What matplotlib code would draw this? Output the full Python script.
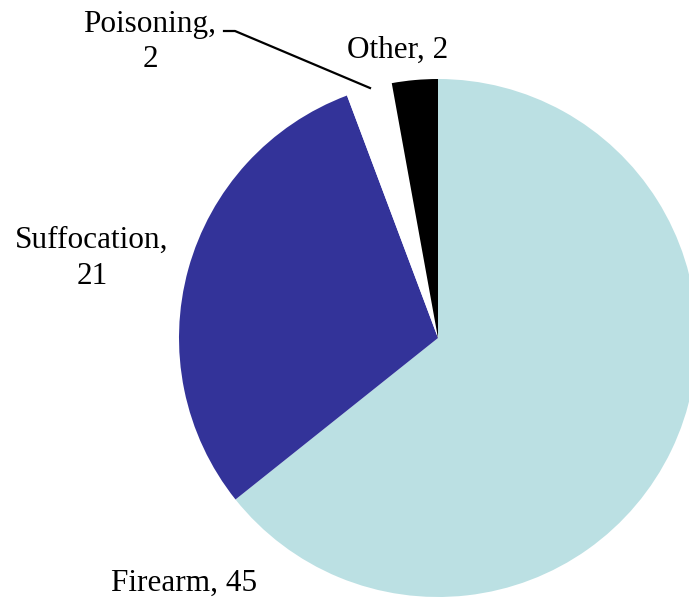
import matplotlib
matplotlib.use('Agg')
import matplotlib.pyplot as plt

# causes and counts
causes = ['Firearm', 'Suffocation', 'Poisoning', 'Other']
counts = [45, 21, 2, 2]
colors = ['#bbe0e3', '#333399', '#ffffff', '#000000']

plt.rcParams['font.family'] = ['Liberation Serif', 'DejaVu Serif']

W, H = 689, 602
fig = plt.figure(figsize=(W / 100, H / 100), dpi=100)
ax = fig.add_axes([0, 0, 1, 1])

ax.pie(counts, colors=colors, startangle=90, counterclock=False,
       center=(438, H - 338), radius=259,
       wedgeprops=dict(linewidth=0))
ax.set_xlim(0, W)
ax.set_ylim(0, H)
ax.set_aspect('auto')
ax.axis('off')

fs = 22.5

def label(x, y, s):
    # y is the baseline in pixels from the top
    ax.text(x, H - y, s, ha='center', va='baseline', fontsize=fs)

label(150, 32, causes[2] + ',')
label(150, 67, str(counts[2]))
label(398, 58, '%s, %d' % (causes[3], counts[3]))
label(92, 248, causes[1] + ',')
label(92, 284, str(counts[1]))
label(184, 591, '%s, %d' % (causes[0], counts[0]))

# leader line for poisoning
ax.plot([224, 235, 370], [H - 31, H - 31, H - 88], color='black', linewidth=1.6)

fig.savefig('out.png', dpi=100)
